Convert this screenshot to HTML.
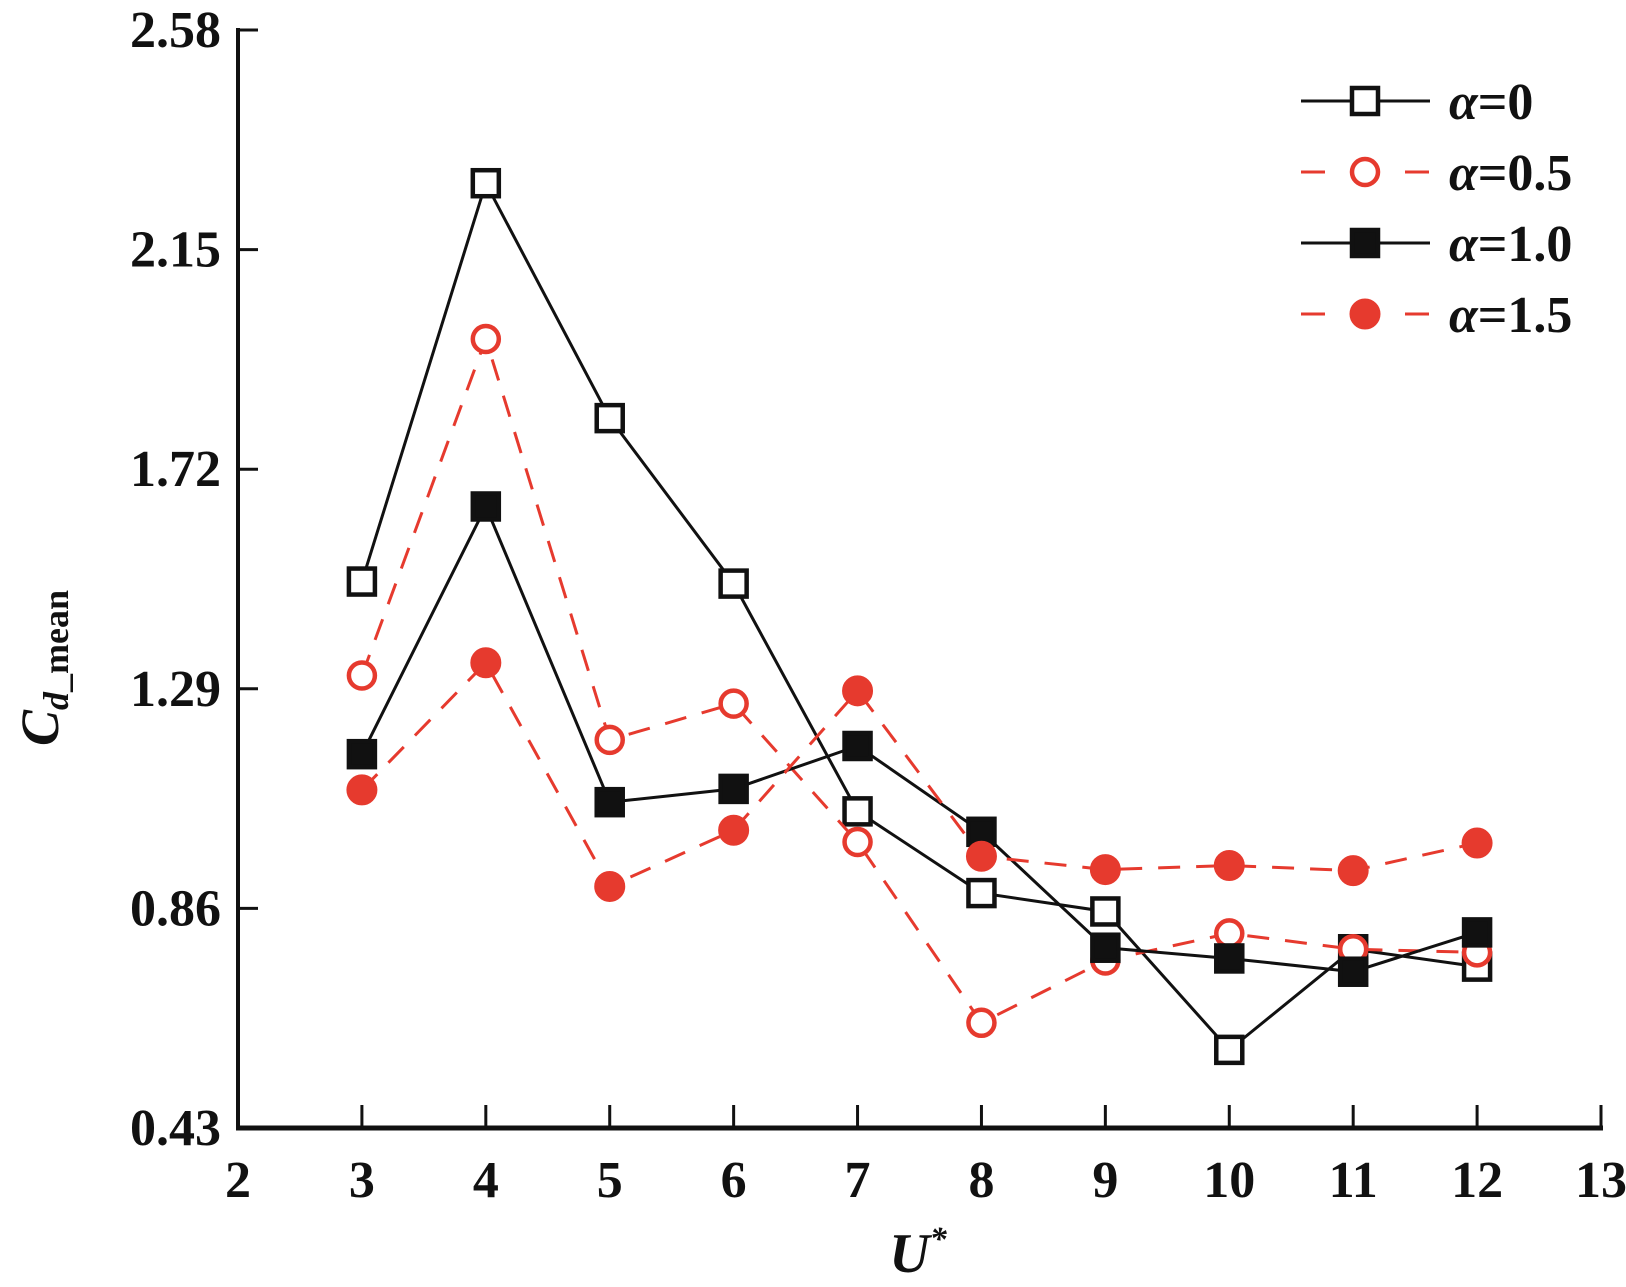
<!DOCTYPE html>
<html><head><meta charset="utf-8"><style>
body{margin:0;background:#fff}
svg text{font-family:"Liberation Serif",serif;fill:#111}
</style></head><body>
<svg width="1626" height="1282" viewBox="0 0 1626 1282">
<g id="axes"></g><g id="series"></g><g id="legend"></g>
<text x="918" y="1272" font-size="56" font-style="italic" font-weight="bold" text-anchor="middle">U<tspan font-size="34" dy="-22">*</tspan></text>
<text transform="translate(58,668) rotate(-90)" font-size="54" font-style="italic" font-weight="bold" text-anchor="middle">C<tspan font-size="36" dy="10">d</tspan><tspan font-size="36" font-style="normal">_mean</tspan></text>
</svg>
<script>
const xCats=[3,4,5,6,7,8,9,10,11,12];
const s0=[1.50,2.28,1.82,1.496,1.05,0.89,0.854,0.583,0.78,0.746];
const s05=[1.316,1.975,1.19,1.261,0.99,0.636,0.758,0.811,0.78,0.774];
const s10=[1.162,1.647,1.068,1.094,1.178,1.01,0.783,0.762,0.736,0.813];
const s15=[1.092,1.341,0.903,1.013,1.286,0.962,0.936,0.944,0.934,0.988];
const yTicks=[0.43,0.86,1.29,1.72,2.15,2.58];
const xTicks=[2,3,4,5,6,7,8,9,10,11,12,13];
const labels=["α=0","α=0.5","α=1.0","α=1.5"];
const NS="http://www.w3.org/2000/svg";
const X=v=>238+(v-2)*(1601-238)/11;
const Y=v=>1128-(v-0.43)*(1128-30)/(2.58-0.43);
function mk(tag,attrs,parent){const e=document.createElementNS(NS,tag);for(const k in attrs)e.setAttribute(k,attrs[k]);parent.appendChild(e);return e;}
const ax=document.getElementById('axes');
let l=mk('line',{x1:238,y1:28,x2:238,y2:1129,stroke:'#111','stroke-width':4},ax);


l=mk('line',{x1:236,y1:1128,x2:1603,y2:1128,stroke:'#111','stroke-width':5},ax);


yTicks.forEach(v=>{
 const t=mk('line',{x1:238,y1:Y(v),x2:258,y2:Y(v),stroke:'#111','stroke-width':3},ax);
 
 
 const tx=mk('text',{x:221,y:Y(v)+17,'font-size':52,'font-weight':'bold','text-anchor':'end'},ax);tx.textContent=v.toFixed(2);
 
 
});
xTicks.forEach(v=>{
 if(v>2){const t=mk('line',{x1:X(v),y1:1128,x2:X(v),y2:1105,stroke:'#111','stroke-width':3},ax);
 
 }
 const tx=mk('text',{x:X(v),y:1197,'font-size':52,'font-weight':'bold','text-anchor':'middle'},ax);tx.textContent=v;
 
 
});
const RED='#e63a2e';
const series=[
 {d:s0,c:'#111',dash:'',m:'sq',fill:'#fff'},
 {d:s05,c:RED,dash:'22 16',m:'ci',fill:'#fff'},
 {d:s10,c:'#111',dash:'',m:'sq',fill:'#111'},
 {d:s15,c:RED,dash:'22 16',m:'ci',fill:RED}];
function marker(s,x,y,g){
 let e;
 if(s.m==='sq') e=mk('rect',{x:x-13,y:y-13,width:26,height:26,fill:s.fill,stroke:s.c,'stroke-width':4.5},g);
 else e=mk('circle',{cx:x,cy:y,r:s.fill==='#fff'?13:15,fill:s.fill,stroke:s.c,'stroke-width':s.fill==='#fff'?4.5:1},g);
 
 
}
const sg=document.getElementById('series');
series.forEach((s,i)=>{
 const g=mk('g',{},sg);
 
 
 const p=mk('polyline',{points:s.d.map((v,j)=>X(xCats[j])+','+Y(v)).join(' '),fill:'none',stroke:s.c,'stroke-width':3,'stroke-dasharray':s.dash},g);
 
 
 s.d.forEach((v,j)=>marker(s,X(xCats[j]),Y(v),g));
});
const lg=document.getElementById('legend');
series.forEach((s,i)=>{
 const y=101+i*71;
 const g=mk('g',{},lg);
 
 
 mk('line',{x1:1301,y1:y,x2:1430,y2:y,stroke:s.c,'stroke-width':3,'stroke-dasharray':s.dash?'24 28':''},g);
 marker(s,1365,y,g);
 const t=mk('text',{x:1449,y:y+18,'font-size':52,'font-weight':'bold'},g);
 t.innerHTML='<tspan font-style="italic">α</tspan>'+labels[i].slice(1);
});
</script>
</body></html>
